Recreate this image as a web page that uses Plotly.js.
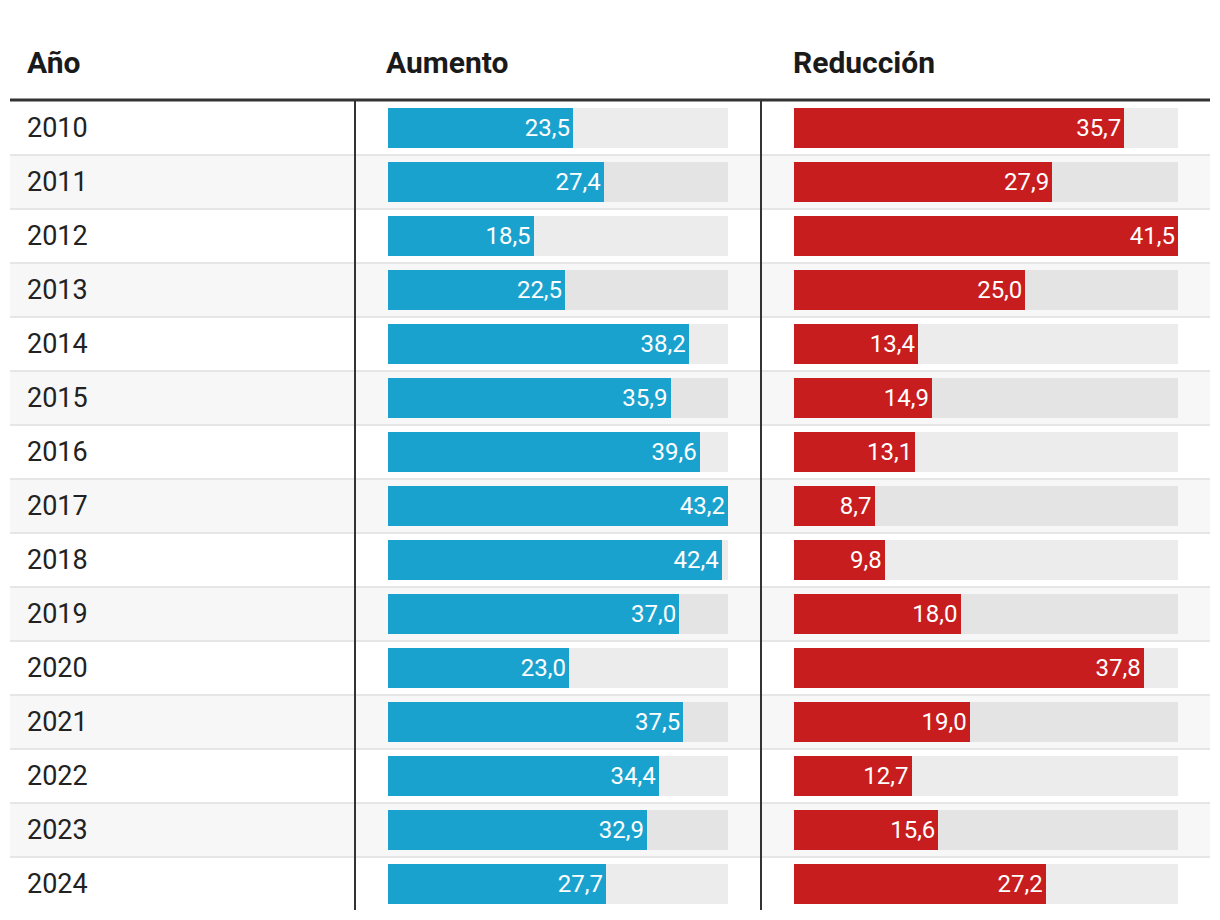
<!DOCTYPE html>
<html>
<head>
<meta charset="utf-8">
<script src="https://cdn.plot.ly/plotly-3.0.1.min.js"></script>
<style>html,body{margin:0;padding:0;background:#fff;}#chart{width:1220px;height:920px;}</style>
</head>
<body>
<div id="chart"></div>
<script>
const years = ["2010","2011","2012","2013","2014","2015","2016","2017","2018","2019","2020","2021","2022","2023","2024"];
const aumento = [23.5,27.4,18.5,22.5,38.2,35.9,39.6,43.2,42.4,37.0,23.0,37.5,34.4,32.9,27.7];
const reduccion = [35.7,27.9,41.5,25.0,13.4,14.9,13.1,8.7,9.8,18.0,37.8,19.0,12.7,15.6,27.2];
const headers = ["Año","Aumento","Reducción"];

const W = 1220, H = 920;
const px = v => v / W;
const py = v => (H - v) / H;
const fmt = v => v.toFixed(1).replace('.', ',');
const maxA = Math.max(...aumento), maxR = Math.max(...reduccion);
const FONT = 'Roboto, "Noto Sans", sans-serif';
const BLUE = '#1aa2cf', RED = '#c81d1e';

const bw = 40/54;
const traces = [
  {type:'bar', orientation:'h', y:years, x:years.map(()=>maxA), xaxis:'x', yaxis:'y',
   marker:{color:'rgba(0,0,0,0.075)'}, width:bw, hoverinfo:'skip', showlegend:false},
  {type:'bar', orientation:'h', y:years, x:aumento, xaxis:'x', yaxis:'y',
   marker:{color:BLUE}, width:bw, text:aumento.map(fmt), textposition:'inside',
   insidetextanchor:'end', textfont:{family:FONT, size:24, color:'#ffffff'},
   constraintext:'none', hoverinfo:'skip', showlegend:false},
  {type:'bar', orientation:'h', y:years, x:years.map(()=>maxR), xaxis:'x2', yaxis:'y',
   marker:{color:'rgba(0,0,0,0.075)'}, width:bw, hoverinfo:'skip', showlegend:false},
  {type:'bar', orientation:'h', y:years, x:reduccion, xaxis:'x2', yaxis:'y',
   marker:{color:RED}, width:bw, text:reduccion.map(fmt), textposition:'inside',
   insidetextanchor:'end', textfont:{family:FONT, size:24, color:'#ffffff'},
   constraintext:'none', hoverinfo:'skip', showlegend:false}
];

const shapes = [];
years.forEach((y,i)=>{
  if (i % 2 === 1) {
    shapes.push({type:'rect', layer:'below', xref:'paper', yref:'y', x0:px(10), x1:px(1210),
      y0:i-0.5, y1:i+0.5, fillcolor:'#f7f7f7', line:{width:0}});
  }
});
years.forEach((y,i)=>{
  if (i < years.length-1) {
    shapes.push({type:'line', layer:'below', xref:'paper', yref:'y', x0:px(10), x1:px(1210),
      y0:i+0.5, y1:i+0.5, line:{color:'#e6e6e6', width:2}});
  }
});
shapes.push({type:'line', xref:'paper', yref:'paper', x0:px(355), x1:px(355), y0:py(910), y1:py(101), line:{color:'#333333', width:2}});
shapes.push({type:'line', xref:'paper', yref:'paper', x0:px(761), x1:px(761), y0:py(910), y1:py(101), line:{color:'#333333', width:2}});
shapes.push({type:'line', xref:'paper', yref:'paper', x0:px(10), x1:px(1210), y0:py(100), y1:py(100), line:{color:'#333333', width:3}});

const annotations = [];
years.forEach((y,i)=>{
  annotations.push({xref:'paper', yref:'y', x:px(25), y:i, text:y, showarrow:false,
    xanchor:'left', yanchor:'middle', font:{family:FONT, size:27, color:'#222222'}});
});
const hx = [25, 384, 791];
headers.forEach((h,i)=>{
  annotations.push({xref:'paper', yref:'paper', x:px(hx[i]), y:py(63), text:'<b>'+h+'</b>', showarrow:false,
    xanchor:'left', yanchor:'middle', font:{family:FONT, size:30, color:'#1a1a1a'}});
});

const layout = {
  width:W, height:H, margin:{l:0,r:0,t:0,b:0},
  paper_bgcolor:'#ffffff', plot_bgcolor:'rgba(0,0,0,0)',
  barmode:'overlay', bargap:0,
  font:{family:FONT},
  xaxis:{domain:[px(388), px(728)], range:[0, maxA], visible:false, fixedrange:true},
  xaxis2:{domain:[px(794), px(1178)], range:[0, maxR], visible:false, fixedrange:true, anchor:'y'},
  yaxis:{type:'category', domain:[py(911), py(101)], range:[years.length-0.5, -0.5],
    visible:false, fixedrange:true},
  shapes:shapes, annotations:annotations, uniformtext:{mode:false}
};

Plotly.newPlot('chart', traces, layout, {displayModeBar:false, staticPlot:true});
</script>
</body>
</html>
